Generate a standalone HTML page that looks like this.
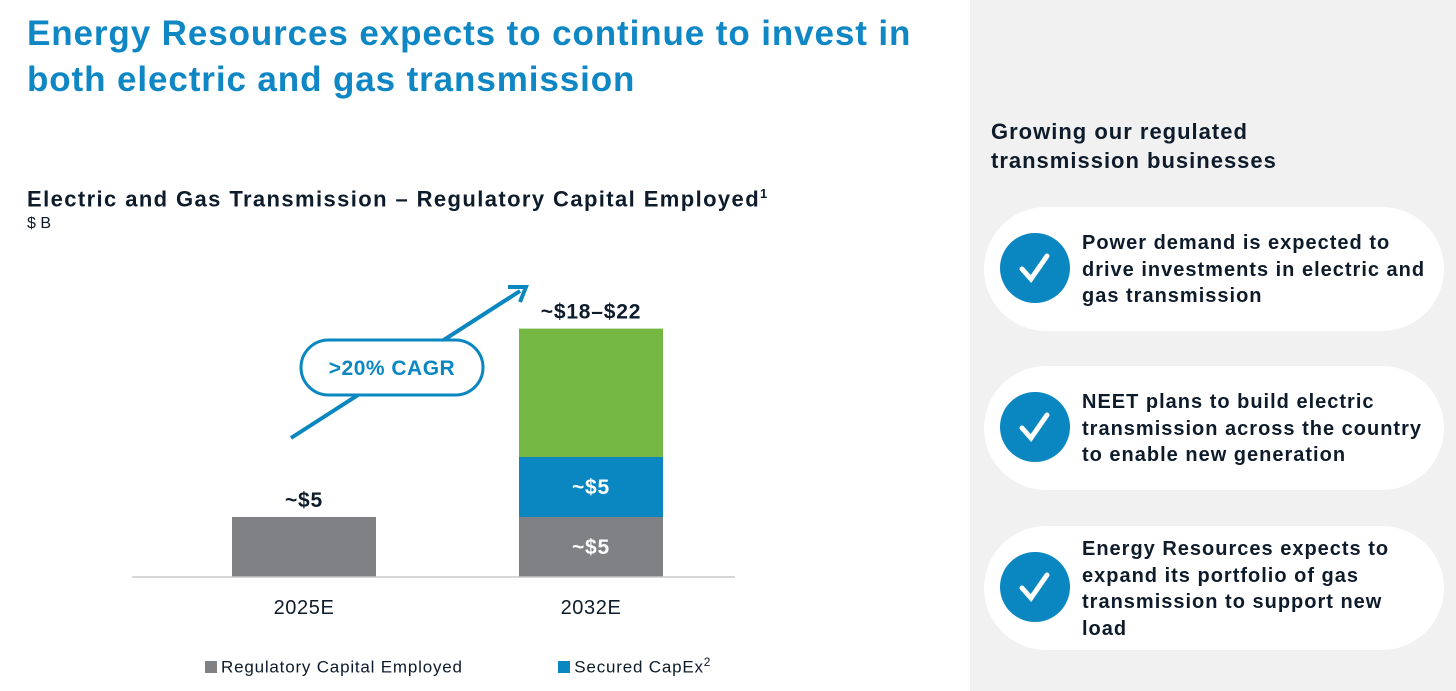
<!DOCTYPE html>
<html><head><meta charset="utf-8">
<style>
body{margin:0;width:1456px;height:691px;background:#fff;font-family:"Liberation Sans",Arial,sans-serif;position:relative;overflow:hidden}
.abs{position:absolute}
h1{position:absolute;left:27px;top:11px;margin:0;font-size:35px;letter-spacing:0.9px;line-height:46px;color:#0e87c4;font-weight:bold;white-space:nowrap}
.panel{left:970px;top:0;width:486px;height:691px;background:#f1f1f1}
.card{left:984px;width:460px;height:124px;background:#fff;border-radius:62px}
.chk{left:16px;top:26px;width:70px;height:70px;border-radius:50%;background:#0a87c0}
.ct{left:98px;font-size:20px;font-weight:bold;color:#0d1b2a;line-height:26.5px;width:350px;letter-spacing:1px}
</style></head><body>
<h1>Energy Resources expects to continue to invest in<br>both electric and gas transmission</h1>
<div class="abs" style="left:27px;top:186px;font-size:22px;letter-spacing:1.4px;font-weight:bold;color:#0d1b2a;white-space:nowrap">Electric and Gas Transmission – Regulatory Capital Employed<sup style="font-size:13px">1</sup></div>
<div class="abs" style="left:27px;top:215px;font-size:16px;color:#0d1b2a">$ B</div>

<svg class="abs" style="left:0;top:0" width="970" height="691">
<g id="bars"></g>
<line x1="132" y1="577" x2="735" y2="577" stroke="#c8c8c8" stroke-width="1.5"/>
<line x1="291" y1="438" x2="520" y2="291" stroke="#0a87c0" stroke-width="4"/>
<polyline points="508,287 526,287 520,302" fill="none" stroke="#0a87c0" stroke-width="4"/>
<rect x="301" y="340" width="182" height="55" rx="27.5" fill="#fff" stroke="#0a87c0" stroke-width="3"/>
<text x="392" y="375" text-anchor="middle" font-size="21" letter-spacing="0.5" font-weight="bold" fill="#0a87c0">&gt;20% CAGR</text>
</svg>

<div class="abs" style="left:205px;top:655px;font-size:17px;letter-spacing:0.8px;color:#0d1b2a;white-space:nowrap">
<span style="display:inline-block;width:12px;height:12px;background:#7f8185;margin-right:4px"></span>Regulatory Capital Employed
<span style="display:inline-block;width:12px;height:12px;background:#0a87c0;margin:0 4px 0 90px"></span>Secured CapEx<sup style="font-size:12px">2</sup></div>

<div class="abs panel"></div>
<div class="abs" style="left:991px;top:117px;font-size:22px;letter-spacing:1px;font-weight:bold;color:#0d1b2a;line-height:29px">Growing our regulated<br>transmission businesses</div>

<div class="abs card" style="top:207px">
<div class="abs chk"><svg width="70" height="70"><polyline points="22,36 31,46 47,23" fill="none" stroke="#fff" stroke-width="5" stroke-linecap="round"/></svg></div>
<div class="abs ct" style="top:23px">Power demand is expected to drive investments in electric and gas transmission</div></div>
<div class="abs card" style="top:366px">
<div class="abs chk"><svg width="70" height="70"><polyline points="22,36 31,46 47,23" fill="none" stroke="#fff" stroke-width="5" stroke-linecap="round"/></svg></div>
<div class="abs ct" style="top:23px">NEET plans to build electric transmission across the country to enable new generation</div></div>
<div class="abs card" style="top:526px">
<div class="abs chk"><svg width="70" height="70"><polyline points="22,36 31,46 47,23" fill="none" stroke="#fff" stroke-width="5" stroke-linecap="round"/></svg></div>
<div class="abs ct" style="top:10px">Energy Resources expects to expand its portfolio of gas transmission to support new load</div></div>

<script>
const categories=["2025E","2032E"];
const regulatory=[5,5];
const secured=[0,5];
const growth=[0,10.7];
const segLabels=[["~$5","",""],["~$5","~$5",""]];
const totalLabels=["~$5","~$18–$22"];
const base=577, pxPer=12, barW=144;
function xPos(i){return 232+i*287;}
function yScale(v){return base-v*pxPer;}
const g=document.getElementById('bars');
const NS="http://www.w3.org/2000/svg";
const colors=["#7f8185","#0a87c0","#74b843"];
const names=["regulatory","secured","growth"];
categories.forEach((c,i)=>{
  let acc=0;
  [regulatory[i],secured[i],growth[i]].forEach((v,k)=>{
    if(v<=0)return;
    const r=document.createElementNS(NS,'rect');
    r.setAttribute('x',xPos(i));r.setAttribute('width',barW);
    r.setAttribute('y',yScale(acc+v));r.setAttribute('height',v*pxPer);
    r.setAttribute('fill',colors[k]);
    
    
    g.appendChild(r);
    if(i>0&&segLabels[i][k]){
      const t=document.createElementNS(NS,'text');
      t.setAttribute('x',xPos(i)+barW/2);t.setAttribute('y',yScale(acc+v/2)+7);
      t.setAttribute('text-anchor','middle');t.setAttribute('font-size','21');t.setAttribute('letter-spacing','0.8');t.setAttribute('font-weight','bold');t.setAttribute('fill','#fff');
      t.textContent=segLabels[i][k];
      
      
      g.appendChild(t);
    }
    acc+=v;
  });
  const t=document.createElementNS(NS,'text');
  t.setAttribute('x',xPos(i)+barW/2);t.setAttribute('y',yScale(acc)-10);
  t.setAttribute('text-anchor','middle');t.setAttribute('font-size','21');t.setAttribute('letter-spacing','0.8');t.setAttribute('font-weight','bold');t.setAttribute('fill','#0d1b2a');
  t.textContent=totalLabels[i];
  
  
  g.appendChild(t);
  const x=document.createElementNS(NS,'text');
  x.setAttribute('x',xPos(i)+barW/2);x.setAttribute('y',614);
  x.setAttribute('text-anchor','middle');x.setAttribute('font-size','20');x.setAttribute('letter-spacing','0.6');x.setAttribute('fill','#0d1b2a');
  x.textContent=c;
  
  
  g.appendChild(x);
});
</script>
</body></html>
